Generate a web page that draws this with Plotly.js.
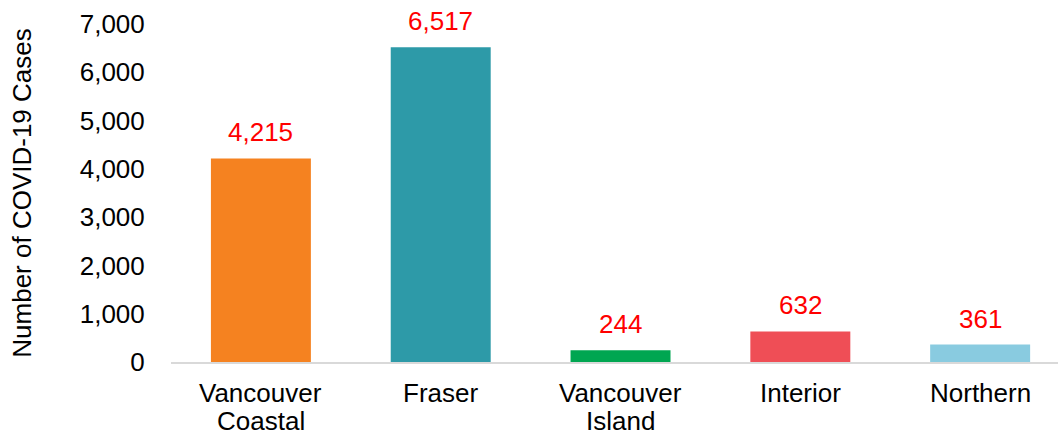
<!DOCTYPE html>
<html><head><meta charset="utf-8">
<script src="https://cdn.plot.ly/plotly-3.0.1.min.js"></script>
<style>html,body{margin:0;padding:0;background:#fff;}</style>
</head><body><div id="chart" style="width:1058px;height:436px;"></div>
<script>
const categories = ["Vancouver Coastal", "Fraser", "Vancouver Island", "Interior", "Northern"];
const labelLine1 = ["Vancouver", "Fraser", "Vancouver", "Interior", "Northern"];
const labelLine2 = ["Coastal", "", "Island", "", ""];
const cases = [4215, 6517, 244, 632, 361];
const barColors = ["#F58220", "#2D9AA8", "#00A651", "#EF4E56", "#89CBE0"];
const yTicks = [0, 1000, 2000, 3000, 4000, 5000, 6000, 7000];
const yTickLabels = ["0", "1,000", "2,000", "3,000", "4,000", "5,000", "6,000", "7,000"];

const FONT = "Liberation Sans, Arial, sans-serif";
const FS = 26;
const trace = {
  type: "bar",
  x: categories,
  y: cases,
  marker: {color: barColors},
  hoverinfo: "none"
};
const annotations = [];
categories.forEach((c, i) => {
  annotations.push({
    x: c, y: cases[i], xref: "x", yref: "y",
    text: cases[i].toLocaleString("en-US"),
    showarrow: false, yanchor: "bottom", yshift: 9,
    font: {family: FONT, size: FS, color: "#FF0000"}
  });
  annotations.push({
    x: c, y: 0, xref: "x", yref: "paper",
    text: labelLine1[i], showarrow: false, yanchor: "middle", yshift: -31,
    font: {family: FONT, size: FS, color: "#000"}
  });
  if (labelLine2[i]) annotations.push({
    x: c, y: 0, xref: "x", yref: "paper",
    text: labelLine2[i], showarrow: false, yanchor: "middle", yshift: -59,
    font: {family: FONT, size: FS, color: "#000"}
  });
});
const layout = {
  width: 1058, height: 436,
  margin: {l: 171, r: 0, t: 24, b: 74},
  paper_bgcolor: "#fff", plot_bgcolor: "#fff",
  showlegend: false,
  bargap: 0.444,
  font: {family: FONT, color: "#000"},
  xaxis: {
    range: [-0.5, 4.433],
    showgrid: false, zeroline: false,
    showline: true, linecolor: "#D9D9D9", linewidth: 2,
    showticklabels: false, ticks: "",
    automargin: false
  },
  yaxis: {
    range: [0, 7000],
    tickvals: yTicks, ticktext: yTickLabels,
    showgrid: false, zeroline: false, showline: false,
    ticks: "outside", ticklen: 20, tickcolor: "rgba(0,0,0,0)",
    tickfont: {family: FONT, size: FS, color: "#000"},
    title: {text: "Number of COVID-19 Cases", font: {family: FONT, size: FS, color: "#000"}, standoff: 40},
    automargin: false
  },
  annotations: annotations
};
Plotly.newPlot("chart", [trace], layout, {staticPlot: true, displayModeBar: false});
</script></body></html>
